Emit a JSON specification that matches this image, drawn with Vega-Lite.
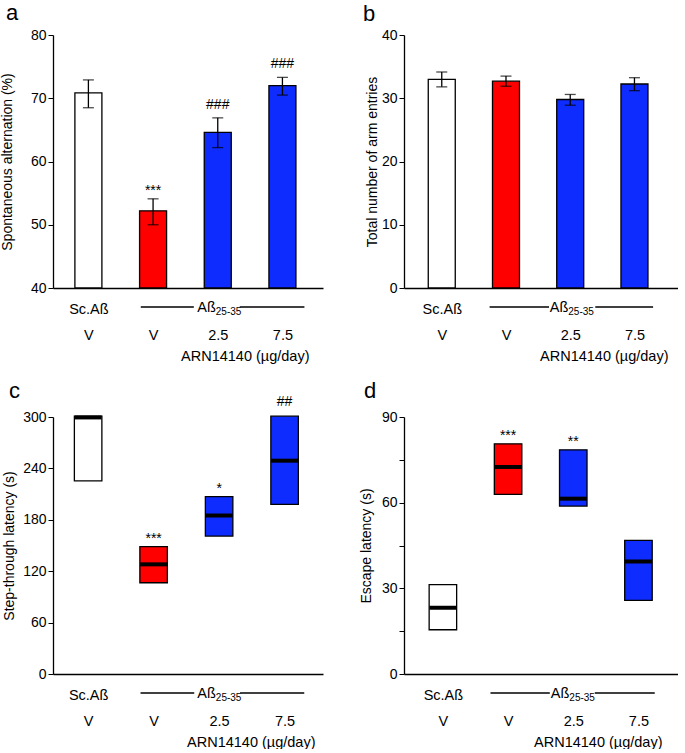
{
  "$schema": "https://vega.github.io/schema/vega-lite/v6.json",
  "padding": {"left": 0, "top": 2, "right": 0, "bottom": 0},
  "background": "white",
  "config": {
    "font": "Liberation Sans",
    "view": {"stroke": null},
    "axis": {"domainColor": "black", "domainWidth": 1.3, "tickColor": "black", "tickWidth": 1, "labelColor": "black", "titleColor": "black", "grid": false, "labelFont": "Liberation Sans", "titleFont": "Liberation Sans", "titleFontWeight": "normal", "labelFontSize": 14, "titleFontSize": 14},
    "axisY": {"tickSize": 5, "labelPadding": 2},
    "axisX": {"ticks": false, "tickSize": 0, "labelPadding": 14, "labelFontSize": 14.5, "labelLineHeight": 27, "labelBaseline": "top", "labelOverlap": false, "labelFlush": false, "titlePadding": 8, "titleAlign": "right", "titleFontSize": 14.5},
    "title": {"anchor": "start", "frame": "group", "fontSize": 22, "fontWeight": "normal", "font": "Liberation Sans", "color": "black", "baseline": "alphabetic"},
    "text": {"font": "Liberation Sans", "color": "black"}
  },
  "datasets": {
    "panelA": [
      {"pos": 1, "grp": "control", "mean": 70.85, "lo": 68.5, "hi": 72.9, "sig": ""},
      {"pos": 2, "grp": "vehicle", "mean": 52.2, "lo": 50.0, "hi": 54.1, "sig": "***"},
      {"pos": 3, "grp": "low", "mean": 64.6, "lo": 62.2, "hi": 66.9, "sig": "###"},
      {"pos": 4, "grp": "high", "mean": 72.0, "lo": 70.5, "hi": 73.3, "sig": "###"}
    ],
    "panelB": [
      {"pos": 1, "grp": "control", "mean": 33.0, "lo": 31.8, "hi": 34.15, "sig": ""},
      {"pos": 2, "grp": "vehicle", "mean": 32.7, "lo": 31.9, "hi": 33.5, "sig": ""},
      {"pos": 3, "grp": "low", "mean": 29.8, "lo": 28.9, "hi": 30.6, "sig": ""},
      {"pos": 4, "grp": "high", "mean": 32.25, "lo": 31.2, "hi": 33.25, "sig": ""}
    ],
    "panelC": [
      {"pos": 1, "grp": "control", "median": 299.5, "lo": 225.5, "hi": 301, "sig": ""},
      {"pos": 2, "grp": "vehicle", "median": 128, "lo": 106.5, "hi": 148.8, "sig": "***"},
      {"pos": 3, "grp": "low", "median": 185, "lo": 161, "hi": 207, "sig": "*"},
      {"pos": 4, "grp": "high", "median": 249, "lo": 198, "hi": 301, "sig": "##"}
    ],
    "panelD": [
      {"pos": 1, "grp": "control", "median": 23.2, "lo": 15.5, "hi": 31.3, "sig": ""},
      {"pos": 2, "grp": "vehicle", "median": 72.5, "lo": 62.9, "hi": 80.6, "sig": "***"},
      {"pos": 3, "grp": "low", "median": 61.4, "lo": 58.8, "hi": 78.5, "sig": "**"},
      {"pos": 4, "grp": "high", "median": 39.4, "lo": 25.8, "hi": 46.8, "sig": ""}
    ]
  },
  "columns": 2,
  "bounds": "flush",
  "spacing": {"row": 129, "column": 81},
  "concat": [
    {
      "title": {"text": "a", "dx": -47, "offset": 3},
      "width": 270, "height": 253,
      "layer": [
        {"data": {"name": "panelA"}, "mark": {"type": "bar", "width": 27, "stroke": "black", "strokeWidth": 1.3},
         "encoding": {
           "x": {"field": "pos", "type": "quantitative", "scale": {"domain": [0.53, 4.55], "nice": false, "zero": false}, "axis": {"values": [1, 2, 3, 4], "labelExpr": "datum.value == 1 ? ['Sc.Aß','V'] : datum.value == 2 ? ['','V'] : datum.value == 3 ? ['','2.5'] : ['','7.5']", "title": "ARN14140 (µg/day)", "titleX": 256, "labelLineHeight": 26}},
           "y": {"field": "mean", "type": "quantitative", "title": "Spontaneous alternation (%)", "scale": {"domain": [40, 80], "nice": false, "zero": false}, "axis": {"values": [40, 45, 50, 55, 60, 65, 70, 75, 80], "labelExpr": "datum.value % 10 == 0 ? datum.label : ''", "titlePadding": 16}},
           "y2": {"datum": 40},
           "fill": {"field": "grp", "type": "nominal", "scale": {"domain": ["control", "vehicle", "low", "high"], "range": ["#ffffff", "#ff0000", "#0f2cff", "#0f2cff"]}, "legend": null}}},
        {"data": {"name": "panelA"}, "mark": {"type": "errorbar", "ticks": {"size": 11, "color": "black", "thickness": 1.3}, "rule": {"color": "black", "strokeWidth": 1.3}},
         "encoding": {"x": {"field": "pos", "type": "quantitative"}, "y": {"field": "lo", "type": "quantitative", "title": "Spontaneous alternation (%)"}, "y2": {"field": "hi"}}},
        {"data": {"name": "panelA"}, "transform": [{"filter": "indexof(datum.sig, '*') >= 0"}],
         "mark": {"type": "text", "dy": -4, "fontSize": 14, "baseline": "alphabetic"},
         "encoding": {"x": {"field": "pos", "type": "quantitative"}, "y": {"field": "hi", "type": "quantitative", "title": "Spontaneous alternation (%)"}, "text": {"field": "sig"}}},
        {"data": {"name": "panelA"}, "transform": [{"filter": "indexof(datum.sig, '#') >= 0"}],
         "mark": {"type": "text", "dy": -9, "fontSize": 14, "baseline": "alphabetic"},
         "encoding": {"x": {"field": "pos", "type": "quantitative"}, "y": {"field": "hi", "type": "quantitative", "title": "Spontaneous alternation (%)"}, "text": {"field": "sig"}}},
        {"data": {"values": [{"seg": "left"}]}, "mark": {"type": "rule", "yOffset": 19, "color": "black", "strokeWidth": 1.3},
         "encoding": {"x": {"datum": 1.81}, "x2": {"datum": 2.63}, "y": {"datum": 40}}},
        {"data": {"values": [{"seg": "right"}]}, "mark": {"type": "rule", "yOffset": 19, "color": "black", "strokeWidth": 1.3},
         "encoding": {"x": {"datum": 3.34}, "x2": {"datum": 4.34}, "y": {"datum": 40}}},
        {"data": {"values": [{"lab": "Aß"}]}, "mark": {"type": "text", "align": "right", "dy": 24, "fontSize": 14.5, "baseline": "alphabetic"},
         "encoding": {"x": {"datum": 2.97}, "y": {"datum": 40}, "text": {"field": "lab"}}},
        {"data": {"values": [{"lab": "25-35"}]}, "mark": {"type": "text", "align": "left", "dy": 27, "fontSize": 10, "baseline": "alphabetic"},
         "encoding": {"x": {"datum": 2.97}, "y": {"datum": 40}, "text": {"field": "lab"}}}
      ]
    },
    {
      "title": {"text": "b", "dx": -41, "offset": 2},
      "width": 274, "height": 253,
      "layer": [
        {"data": {"name": "panelB"}, "mark": {"type": "bar", "width": 27, "stroke": "black", "strokeWidth": 1.3},
         "encoding": {
           "x": {"field": "pos", "type": "quantitative", "scale": {"domain": [0.49, 4.6], "nice": false, "zero": false}, "axis": {"values": [1, 2, 3, 4], "labelExpr": "datum.value == 1 ? ['Sc.Aß','V'] : datum.value == 2 ? ['','V'] : datum.value == 3 ? ['','2.5'] : ['','7.5']", "title": "ARN14140 (µg/day)", "titleX": 264, "labelLineHeight": 26}},
           "y": {"field": "mean", "type": "quantitative", "title": "Total number of arm entries", "scale": {"domain": [0, 40], "nice": false}, "axis": {"values": [0, 5, 10, 15, 20, 25, 30, 35, 40], "labelExpr": "datum.value % 10 == 0 ? datum.label : ''", "titlePadding": 2}},
           "y2": {"datum": 0},
           "fill": {"field": "grp", "type": "nominal", "scale": {"domain": ["control", "vehicle", "low", "high"], "range": ["#ffffff", "#ff0000", "#0f2cff", "#0f2cff"]}, "legend": null}}},
        {"data": {"name": "panelB"}, "mark": {"type": "errorbar", "ticks": {"size": 11, "color": "black", "thickness": 1.3}, "rule": {"color": "black", "strokeWidth": 1.3}},
         "encoding": {"x": {"field": "pos", "type": "quantitative"}, "y": {"field": "lo", "type": "quantitative", "title": "Total number of arm entries"}, "y2": {"field": "hi"}}},
        {"data": {"values": [{"seg": "left"}]}, "mark": {"type": "rule", "yOffset": 19, "color": "black", "strokeWidth": 1.3},
         "encoding": {"x": {"datum": 1.745}, "x2": {"datum": 2.67}, "y": {"datum": 0}}},
        {"data": {"values": [{"seg": "right"}]}, "mark": {"type": "rule", "yOffset": 19, "color": "black", "strokeWidth": 1.3},
         "encoding": {"x": {"datum": 3.39}, "x2": {"datum": 4.29}, "y": {"datum": 0}}},
        {"data": {"values": [{"lab": "Aß"}]}, "mark": {"type": "text", "align": "right", "dy": 24, "fontSize": 14.5, "baseline": "alphabetic"},
         "encoding": {"x": {"datum": 2.97}, "y": {"datum": 0}, "text": {"field": "lab"}}},
        {"data": {"values": [{"lab": "25-35"}]}, "mark": {"type": "text", "align": "left", "dy": 27, "fontSize": 10, "baseline": "alphabetic"},
         "encoding": {"x": {"datum": 2.97}, "y": {"datum": 0}, "text": {"field": "lab"}}}
      ]
    },
    {
      "title": {"text": "c", "dx": -44, "offset": -8},
      "width": 270, "height": 257,
      "layer": [
        {"data": {"name": "panelC"}, "mark": {"type": "bar", "width": 27.5, "stroke": "black", "strokeWidth": 1.3},
         "encoding": {
           "x": {"field": "pos", "type": "quantitative", "scale": {"domain": [0.54, 4.51], "nice": false, "zero": false}, "axis": {"values": [1, 2, 3, 4], "labelExpr": "datum.value == 1 ? ['Sc.Aß','V'] : datum.value == 2 ? ['','V'] : datum.value == 3 ? ['','2.5'] : ['','7.5']", "title": "ARN14140 (µg/day)", "titleX": 262, "labelLineHeight": 26}},
           "y": {"field": "lo", "type": "quantitative", "title": "Step-through latency (s)", "scale": {"domain": [0, 300], "nice": false}, "axis": {"values": [0, 30, 60, 90, 120, 150, 180, 210, 240, 270, 300], "labelExpr": "datum.value % 60 == 0 ? datum.label : ''", "titlePadding": 6}},
           "y2": {"field": "hi"},
           "fill": {"field": "grp", "type": "nominal", "scale": {"domain": ["control", "vehicle", "low", "high"], "range": ["#ffffff", "#ff0000", "#0f2cff", "#0f2cff"]}, "legend": null}}},
        {"data": {"name": "panelC"}, "mark": {"type": "tick", "orient": "horizontal", "size": 27, "thickness": 4, "color": "black", "opacity": 1},
         "encoding": {"x": {"field": "pos", "type": "quantitative"}, "y": {"field": "median", "type": "quantitative", "title": "Step-through latency (s)"}}},
        {"data": {"name": "panelC"}, "transform": [{"filter": "indexof(datum.sig, '*') >= 0"}],
         "mark": {"type": "text", "dy": -4, "fontSize": 14, "baseline": "alphabetic"},
         "encoding": {"x": {"field": "pos", "type": "quantitative"}, "y": {"field": "hi", "type": "quantitative", "title": "Step-through latency (s)"}, "text": {"field": "sig"}}},
        {"data": {"name": "panelC"}, "transform": [{"filter": "indexof(datum.sig, '#') >= 0"}],
         "mark": {"type": "text", "dy": -10, "fontSize": 14, "baseline": "alphabetic"},
         "encoding": {"x": {"field": "pos", "type": "quantitative"}, "y": {"field": "hi", "type": "quantitative", "title": "Step-through latency (s)"}, "text": {"field": "sig"}}},
        {"data": {"values": [{"seg": "left"}]}, "mark": {"type": "rule", "yOffset": 19, "color": "black", "strokeWidth": 1.3},
         "encoding": {"x": {"datum": 1.8}, "x2": {"datum": 2.62}, "y": {"datum": 0}}},
        {"data": {"values": [{"seg": "right"}]}, "mark": {"type": "rule", "yOffset": 19, "color": "black", "strokeWidth": 1.3},
         "encoding": {"x": {"datum": 3.32}, "x2": {"datum": 4.3}, "y": {"datum": 0}}},
        {"data": {"values": [{"lab": "Aß"}]}, "mark": {"type": "text", "align": "right", "dy": 24, "fontSize": 14.5, "baseline": "alphabetic"},
         "encoding": {"x": {"datum": 2.95}, "y": {"datum": 0}, "text": {"field": "lab"}}},
        {"data": {"values": [{"lab": "25-35"}]}, "mark": {"type": "text", "align": "left", "dy": 27, "fontSize": 10, "baseline": "alphabetic"},
         "encoding": {"x": {"datum": 2.95}, "y": {"datum": 0}, "text": {"field": "lab"}}}
      ]
    },
    {
      "title": {"text": "d", "dx": -40, "offset": 7},
      "width": 274, "height": 257,
      "layer": [
        {"data": {"name": "panelD"}, "mark": {"type": "bar", "width": 27.5, "stroke": "black", "strokeWidth": 1.3},
         "encoding": {
           "x": {"field": "pos", "type": "quantitative", "scale": {"domain": [0.48, 4.53], "nice": false, "zero": false}, "axis": {"values": [1, 2, 3, 4], "labelExpr": "datum.value == 1 ? ['Sc.Aß','V'] : datum.value == 2 ? ['','V'] : datum.value == 3 ? ['','2.5'] : ['','7.5']", "title": "ARN14140 (µg/day)", "titleX": 258, "labelLineHeight": 26}},
           "y": {"field": "lo", "type": "quantitative", "title": "Escape latency (s)", "scale": {"domain": [0, 90], "nice": false}, "axis": {"values": [0, 15, 30, 45, 60, 75, 90], "labelExpr": "datum.value % 30 == 0 ? datum.label : ''", "titlePadding": 8}},
           "y2": {"field": "hi"},
           "fill": {"field": "grp", "type": "nominal", "scale": {"domain": ["control", "vehicle", "low", "high"], "range": ["#ffffff", "#ff0000", "#0f2cff", "#0f2cff"]}, "legend": null}}},
        {"data": {"name": "panelD"}, "mark": {"type": "tick", "orient": "horizontal", "size": 27, "thickness": 4, "color": "black", "opacity": 1},
         "encoding": {"x": {"field": "pos", "type": "quantitative"}, "y": {"field": "median", "type": "quantitative", "title": "Escape latency (s)"}}},
        {"data": {"name": "panelD"}, "transform": [{"filter": "indexof(datum.sig, '*') >= 0"}],
         "mark": {"type": "text", "dy": -4, "fontSize": 14, "baseline": "alphabetic"},
         "encoding": {"x": {"field": "pos", "type": "quantitative"}, "y": {"field": "hi", "type": "quantitative", "title": "Escape latency (s)"}, "text": {"field": "sig"}}},
        {"data": {"values": [{"seg": "left"}]}, "mark": {"type": "rule", "yOffset": 19, "color": "black", "strokeWidth": 1.3},
         "encoding": {"x": {"datum": 1.73}, "x2": {"datum": 2.64}, "y": {"datum": 0}}},
        {"data": {"values": [{"seg": "right"}]}, "mark": {"type": "rule", "yOffset": 19, "color": "black", "strokeWidth": 1.3},
         "encoding": {"x": {"datum": 3.33}, "x2": {"datum": 4.25}, "y": {"datum": 0}}},
        {"data": {"values": [{"lab": "Aß"}]}, "mark": {"type": "text", "align": "right", "dy": 24, "fontSize": 14.5, "baseline": "alphabetic"},
         "encoding": {"x": {"datum": 2.94}, "y": {"datum": 0}, "text": {"field": "lab"}}},
        {"data": {"values": [{"lab": "25-35"}]}, "mark": {"type": "text", "align": "left", "dy": 27, "fontSize": 10, "baseline": "alphabetic"},
         "encoding": {"x": {"datum": 2.94}, "y": {"datum": 0}, "text": {"field": "lab"}}}
      ]
    }
  ]
}
